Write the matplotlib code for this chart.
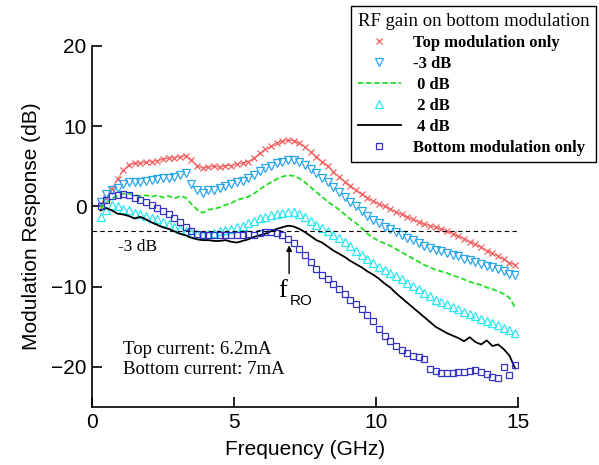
import numpy as np
import matplotlib
matplotlib.use("Agg")
import matplotlib.pyplot as plt
from matplotlib.lines import Line2D

# frequency grid (GHz)
freq = np.round(np.arange(0.3, 15.0, 0.2), 1)

# modulation response (dB)
top_only = [0.3, 1.0, 2.2, 3.4, 4.5, 5.2, 5.4, 5.4, 5.5, 5.6, 5.7, 5.9, 6.0, 6.1, 6.2, 6.3,
            5.8, 5.1, 4.8, 4.9, 5.0, 4.9, 5.1, 5.1, 5.3, 5.4, 5.6, 6.0, 6.6, 7.1, 7.5, 7.9,
            8.1, 8.3, 8.2, 7.9, 7.4, 6.8, 6.2, 5.6, 5.0, 4.3, 3.7, 3.1, 2.6, 2.0, 1.5, 1.1,
            0.7, 0.3, 0.0, -0.3, -0.7, -1.0, -1.3, -1.6, -1.9, -2.2, -2.4, -2.6, -2.8, -3.0,
            -3.4, -3.7, -4.0, -4.4, -4.7, -5.1, -5.5, -5.8, -6.2, -6.6, -7.0, -7.3]
gain_m3 = [0.5, 1.5, 2.0, 2.3, 2.8, 3.0, 3.0, 3.1, 3.2, 3.3, 3.4, 3.5, 3.6, 3.7, 3.9, 4.2,
           2.8, 2.0, 1.7, 2.0, 2.1, 2.3, 2.6, 2.8, 3.0, 3.2, 3.5, 3.9, 4.4, 4.8, 5.1, 5.4,
           5.6, 5.8, 5.8, 5.6, 5.2, 4.7, 4.2, 3.6, 3.0, 2.4, 1.8, 1.2, 0.6, 0.0, -0.6, -1.2,
           -1.7, -2.1, -2.5, -2.8, -3.2, -3.5, -3.9, -4.2, -4.6, -4.9, -5.2, -5.4, -5.6, -5.8,
           -6.0, -6.2, -6.5, -6.7, -6.9, -7.2, -7.4, -7.6, -7.8, -8.1, -8.4, -8.6]
gain_0 = [-0.3, 0.5, 1.0, 1.3, 1.6, 1.6, 1.4, 1.3, 1.4, 1.2, 1.4, 1.1, 1.3, 1.0, 1.3, 1.1,
          0.3, -0.4, -0.8, -0.4, -0.3, -0.1, 0.2, 0.4, 0.8, 1.0, 1.2, 1.6, 2.1, 2.6, 3.0, 3.4,
          3.7, 3.9, 3.8, 3.5, 3.0, 2.4, 1.8, 1.2, 0.6, 0.1, -0.4, -1.0, -1.6, -2.1, -2.7, -3.4,
          -3.9, -4.3, -4.6, -4.9, -5.3, -5.7, -6.1, -6.5, -6.9, -7.3, -7.6, -7.9, -8.1, -8.3,
          -8.6, -8.8, -9.1, -9.4, -9.6, -9.8, -10.1, -10.3, -10.6, -10.9, -11.4, -12.6]
gain_2 = [-1.3, -0.5, 0.2, 0.0, -0.3, -0.5, -0.8, -1.0, -1.2, -1.4, -1.6, -1.9, -2.2, -2.5, -2.8, -3.1,
          -3.3, -3.4, -3.5, -3.4, -3.3, -3.1, -2.9, -2.8, -2.6, -2.4, -2.1, -1.8, -1.5, -1.3, -1.1, -0.9,
          -0.8, -0.7, -0.7, -0.9, -1.3, -1.8, -2.3, -2.7, -3.1, -3.5, -3.9, -4.4, -4.9, -5.5, -6.0, -6.6,
          -7.1, -7.5, -7.9, -8.3, -8.7, -9.1, -9.5, -9.9, -10.3, -10.8, -11.2, -11.6, -11.9, -12.2,
          -12.5, -12.8, -13.1, -13.4, -13.7, -14.0, -14.3, -14.5, -14.8, -15.1, -15.4, -15.8]
gain_4 = [-0.5, -0.2, -0.5, -0.9, -1.0, -1.2, -1.5, -1.3, -1.6, -2.0, -2.3, -2.6, -2.8, -3.1, -3.4, -3.6,
          -3.9, -4.1, -4.2, -4.2, -4.3, -4.3, -4.2, -4.4, -4.5, -4.3, -4.1, -3.8, -3.6, -3.4, -3.1, -2.8,
          -2.6, -2.4, -2.5, -2.8, -3.2, -3.7, -4.2, -4.5, -5.0, -5.5, -5.9, -6.3, -6.8, -7.2, -7.6, -8.1,
          -8.5, -9.0, -9.6, -10.1, -10.8, -11.4, -12.0, -12.6, -13.2, -13.8, -14.4, -15.0, -15.4, -15.8,
          -16.1, -16.4, -16.8, -16.3, -16.9, -17.2, -16.7, -17.4, -17.2, -17.8, -18.6, -20.2]
bottom_only = [0.0, 0.8, 1.3, 1.4, 1.6, 1.4, 1.1, 0.8, 0.5, 0.2, -0.2, -0.6, -1.0, -1.5, -2.0, -2.5,
               -3.0, -3.4, -3.5, -3.6, -3.5, -3.6, -3.5, -3.6, -3.6, -3.5, -3.4, -3.5, -3.3, -3.2, -3.2, -3.3,
               -3.6, -4.0, -4.6, -5.3, -6.0, -6.9, -7.8, -8.5, -9.1, -9.7, -10.3, -10.9, -11.6, -12.2, -12.8, -13.5,
               -14.3, -15.3, -16.2, -16.8, -17.4, -17.9, -18.3, -18.6, -18.8, -19.0, -20.2, -20.5, -20.8, -20.8,
               -20.7, -20.6, -20.6, -20.5, -20.4, -20.6, -20.9, -21.2, -21.4, -20.0, -21.0, -19.8]

labels = ["Top modulation only", "-3 dB", " 0 dB", " 2 dB", " 4 dB", "Bottom modulation only"]

c_red = "#f06060"
c_blue = "#2aa6ea"
c_green = "#22dd22"
c_cyan = "#2ee6f2"
c_navy = "#3434c4"

plt.rcParams["font.family"] = ["Liberation Sans", "DejaVu Sans"]
fig = plt.figure(figsize=(5.99, 4.65), dpi=100)
ax = fig.add_axes([0.1536, 0.1247, 0.7112, 0.7764])

ax.plot(freq, top_only, color=c_red, lw=0.7, marker="x", ms=5, mew=0.9)
ax.plot(freq, gain_m3, ls="none", marker="v", ms=6, mfc="none", mec=c_blue, mew=0.9)
ax.plot(freq, gain_0, color=c_green, ls="--", lw=1.3, dashes=(3, 1.5))
ax.plot(freq, gain_2, ls="none", marker="^", ms=6, mfc="none", mec=c_cyan, mew=0.9)
ax.plot(freq, gain_4, color="black", lw=1.3)
ax.plot(freq, bottom_only, ls="none", marker="s", ms=4.5, mfc="none", mec=c_navy, mew=0.9)

ax.axhline(-3, color="black", ls="--", lw=0.8, dashes=(4, 3))

ax.set_xlim(0, 15)
ax.set_ylim(-25, 20)
ax.set_xticks([0, 5, 10, 15])
ax.set_yticks([-20, -10, 0, 10, 20])
for s in ["top", "right"]:
    ax.spines[s].set_visible(False)
for s in ["left", "bottom"]:
    ax.spines[s].set_linewidth(1.2)
ax.tick_params(direction="in", length=7, width=1.2, labelsize=15, pad=4)
ax.set_xlabel("Frequency (GHz)", fontsize=15, labelpad=6)
ax.set_ylabel("Modulation Response (dB)", fontsize=15, labelpad=7)

serif = ["Liberation Serif", "DejaVu Serif"]
ax.text(0.9, -5.1, "-3 dB", family=serif, fontsize=12.5, va="center")
ax.annotate("", xy=(6.94, -4.5), xytext=(6.94, -8.7),
            arrowprops=dict(arrowstyle="-|>", color="black", lw=1, mutation_scale=8))
ax.text(6.55, -10.5, "f", family=serif, fontsize=19, va="center")
ax.text(6.97, -11.8, "RO", fontsize=11, va="center")
ax.text(1.1, -17.8, "Top current: 6.2mA", family=serif, fontsize=13.5, va="center")
ax.text(1.1, -20.3, "Bottom current: 7mA", family=serif, fontsize=13.5, va="center")

handles = [
    Line2D([], [], ls="none", marker="x", ms=5, mew=0.9, color=c_red),
    Line2D([], [], ls="none", marker="v", ms=6, mfc="none", mec=c_blue, mew=0.9),
    Line2D([], [], color=c_green, ls="--", lw=1.3, dashes=(3, 1.5)),
    Line2D([], [], ls="none", marker="^", ms=6, mfc="none", mec=c_cyan, mew=0.9),
    Line2D([], [], color="black", lw=1.3),
    Line2D([], [], ls="none", marker="s", ms=4.5, mfc="none", mec=c_navy, mew=0.9),
]
leg = fig.legend(handles, labels, loc="upper right", bbox_to_anchor=(596 / 599, 1 - 6 / 465),
                 borderaxespad=0, title="RF gain on bottom modulation", fancybox=False,
                 framealpha=1, edgecolor="black", handlelength=2.6, handletextpad=0.7,
                 labelspacing=0.3, borderpad=0.4, alignment="left",
                 prop=dict(family=serif, weight="bold", size=12))
leg.get_title().set_fontfamily(serif)
leg.get_title().set_fontsize(13.5)
leg.get_frame().set_linewidth(1)

fig.savefig("out.png", dpi=100)
